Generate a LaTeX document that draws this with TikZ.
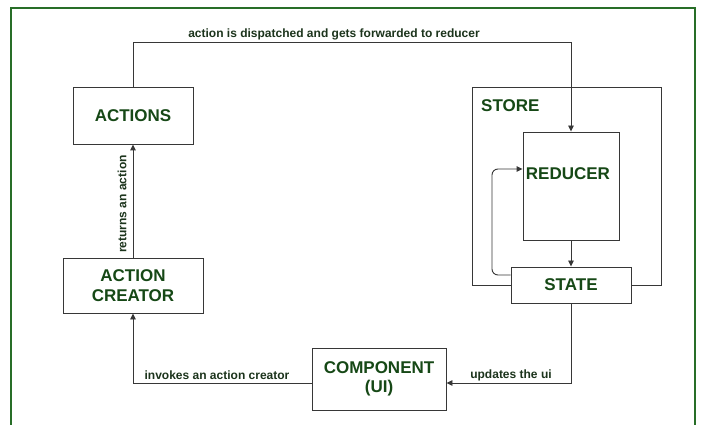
\documentclass[tikz,border=0pt]{standalone}
\usepackage{fontspec}
\setmainfont{Liberation Sans}
\usetikzlibrary{arrows.meta,calc}
\definecolor{frameg}{RGB}{40,110,40}
\definecolor{boxtxt}{RGB}{22,72,22}
\definecolor{lbltxt}{RGB}{28,52,28}
\definecolor{linec}{RGB}{55,55,55}
\tikzset{
  boxfont/.style={font=\fontsize{17}{19.5}\selectfont\bfseries,text=boxtxt},
  box/.style={draw=linec,line width=0.9pt,fill=white,rectangle,inner sep=0pt,
    boxfont,align=center},
  conn/.style={draw=linec,line width=0.9pt,-{Triangle[length=6pt,width=5.5pt]}},
  lbl/.style={font=\fontsize{12}{14}\selectfont\bfseries,text=lbltxt,inner sep=0pt}
}
\begin{document}
\begin{tikzpicture}[x=1pt,y=-1pt]
\useasboundingbox (0,0) rectangle (705,425);
\fill[white] (0,0) rectangle (705,425);
\draw[frameg,line width=1.5pt] (11,426) -- (11,8) -- (695,8) -- (695,426);
% store container
\node[box,minimum width=189pt,minimum height=198pt] (store) at (566.5,186) {};
\node[boxfont,anchor=west,inner sep=0pt] (storelbl) at (481,106) {STORE};
\node[box,minimum width=96pt,minimum height=108pt] (reducer) at (571,186) {};
\node[boxfont,inner sep=0pt] (reducerlbl) at (568,174) {REDUCER};
\node[box,minimum width=120pt,minimum height=36pt] (state) at (571,285) {STATE};
\node[box,minimum width=120pt,minimum height=57pt] (actions) at (133,115.5) {ACTIONS};
\node[box,minimum width=140pt,minimum height=55pt] (creator) at (133,285.5) {ACTION\\CREATOR};
\node[box,minimum width=134pt,minimum height=62pt] (component) at (379,379) {COMPONENT\\(UI)};
% connectors
\coordinate (topR) at (571,42);
\draw[conn] (actions.north) |- (topR) -- (reducer.north);
\node[lbl] (lab1) at (334,34) {action is dispatched and gets forwarded to reducer};
\draw[conn] (reducer.south) -- (state.north);
\draw[conn,rounded corners=6pt] ($(state.west)+(0,-10)$) -| (492,169) -- (reducer.west |- 0,169);
\draw[conn] (state.south) |- ($(component.east)+(0,4)$);
\node[lbl] (lab2) at (511,375) {updates the ui};
\draw[conn] ($(component.west)+(0,4)$) -| (creator.south);
\node[lbl] (lab3) at (217,375) {invokes an action creator};
\draw[conn] (creator.north) -- (actions.south);
\node[lbl,rotate=90] (lab4) at (122,204) {returns an action};
\end{tikzpicture}
\end{document}
